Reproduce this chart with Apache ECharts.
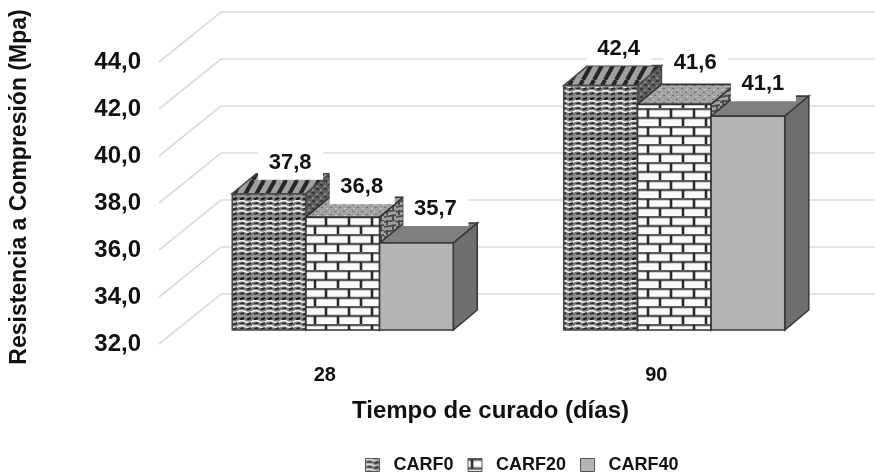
<!DOCTYPE html>
<html><head><meta charset="utf-8">
<style>html,body{margin:0;padding:0;background:#fff}#chart{width:875px;height:473px;filter:blur(0.7px)}</style>
<script src="https://cdn.jsdelivr.net/npm/echarts@6/dist/echarts.min.js"></script>
</head><body><div id="chart"></div>
<script>
const categories = ['28', '90'];
const seriesNames = ['CARF0', 'CARF20', 'CARF40'];
const carf0 = [37.8, 42.4];
const carf20 = [36.8, 41.6];
const carf40 = [35.7, 41.1];
const yTicks = [32, 34, 36, 38, 40, 42, 44];

const FONT = '"Liberation Sans Narrow", "Liberation Sans", Arial, sans-serif';
const comma = v => v.toFixed(1).replace('.', ',');
// small hand placement of the value labels, [series][category] -> [dx, dy]
const labelNudge = [[[2, 2], [-1, -4]], [[0, 3], [2, -8]], [[0, -1], [-4, 1]]];

function tile(w, h, draw) {
  const c = document.createElement('canvas');
  c.width = w; c.height = h;
  draw(c.getContext('2d'), w, h);
  return { image: c, repeat: 'repeat' };
}
function line(g, col, lw, x0, y0, x1, y1) {
  g.strokeStyle = col; g.lineWidth = lw;
  g.beginPath(); g.moveTo(x0, y0); g.lineTo(x1, y1); g.stroke();
}
const weave = tile(14, 20, (g, w, h) => {
  g.fillStyle = '#7d7d7d'; g.fillRect(0, 0, w, h);
  // light wavy threads and short dark slanted stitches, in rows
  [0, 5, 10, 15].forEach((y, r) => {
    g.strokeStyle = r === 3 ? '#999' : '#ececec'; g.lineWidth = 1.8;
    g.beginPath(); g.moveTo(0, y + 1.5);
    g.quadraticCurveTo(3.5, y - 0.5, 7, y + 1.5);
    g.quadraticCurveTo(10.5, y + 3.5, 14, y + 1.5);
    g.stroke();
    const col = r === 3 ? '#151515' : '#2a2a2a';
    line(g, col, 2, 2, y + 4.5, 6, y + 3);
    line(g, col, 2, 9, y + 4.5, 13, y + 3);
  });
});
const weaveTop = tile(11, 20, (g, w, h) => {
  g.fillStyle = '#a0a0a0'; g.fillRect(0, 0, w, h);
  g.strokeStyle = '#262626'; g.lineWidth = 4;
  for (let i = -1; i <= 1; i++) {
    g.beginPath(); g.moveTo(i * w, h); g.lineTo(i * w + w, 0); g.stroke();
  }
});
const weaveSide = tile(8, 8, (g, w, h) => {
  g.fillStyle = '#5f5f5f'; g.fillRect(0, 0, w, h);
  g.fillStyle = '#3a3a3a'; g.fillRect(0, 0, 3, 2); g.fillRect(4, 4, 3, 2);
  g.fillStyle = '#888'; g.fillRect(4, 1, 2, 2); g.fillRect(0, 5, 2, 2);
});
const brick = tile(46, 18, (g, w, h) => {
  g.fillStyle = '#fafafa'; g.fillRect(0, 0, w, h);
  line(g, '#5a5a5a', 2.6, 0, 1, w, 1);
  line(g, '#5a5a5a', 2.6, 0, 10, w, 10);
  [4, 27].forEach(x => line(g, '#2a2a2a', 2.6, x, 1, x, 10));
  [16, 39].forEach(x => line(g, '#2a2a2a', 2.6, x, 10, x, 18));
});
const brickTop = tile(9, 7, (g, w, h) => {
  g.fillStyle = '#a2a2a2'; g.fillRect(0, 0, w, h);
  g.fillStyle = '#6a6a6a'; g.fillRect(1, 1, 2, 1); g.fillRect(6, 4, 2, 1);
  g.fillStyle = '#cfcfcf'; g.fillRect(5, 1, 1, 1); g.fillRect(2, 5, 2, 1);
});
const brickSide = tile(12, 10, (g, w, h) => {
  g.fillStyle = '#a0a0a0'; g.fillRect(0, 0, w, h);
  line(g, '#505050', 1.8, 0, 2, w, 0);
  line(g, '#505050', 1.8, 0, 7, w, 5);
  line(g, '#444', 1.8, 3, 0, 3, 5);
  line(g, '#444', 1.8, 9, 5, 9, 10);
});
const faces = [
  { front: weave, top: weaveTop, side: weaveSide, stroke: '#4a4a4a', legend: weave },
  { front: brick, top: brickTop, side: brickSide, stroke: '#333333', legend: brick },
  { front: '#b4b4b4', top: '#7f7f7f', side: '#6f6f6f', stroke: '#3a3a3a', legend: '#b4b4b4' }
];
const seriesValues = [carf0, carf20, carf40];

const FLOOR_X = 18, FLOOR_Y = -14;   // bars stand this far into the floor
const BAR_DX = 24, BAR_DY = -20;     // bar depth
const WALL_DX = 62, WALL_DY = -50;   // floor depth

function barSeries(name, s) {
  return {
    type: 'custom', name, z: 3,
    itemStyle: { color: faces[s].legend },
    data: seriesValues[s].map((v, i) => [i, v]),
    renderItem(p, api) {
      const c = api.coord([api.value(0), api.value(1)]);
      const b = api.coord([api.value(0), 32]);
      const w = api.size([1, 0])[0] / 4.5;
      const x0 = c[0] + (s - 1.5) * w + FLOOR_X, x1 = x0 + w;
      const yT = c[1] + FLOOR_Y, yB = b[1] + FLOOR_Y;
      const f = faces[s];
      const poly = (pts, fill) => ({ type: 'polygon', shape: { points: pts },
        style: { fill, stroke: f.stroke, lineWidth: 1.6 } });
      return { type: 'group', children: [
        poly([[x0, yT], [x0 + BAR_DX, yT + BAR_DY], [x1 + BAR_DX, yT + BAR_DY], [x1, yT]], f.top),
        poly([[x1, yT], [x1 + BAR_DX, yT + BAR_DY], [x1 + BAR_DX, yB + BAR_DY], [x1, yB]], f.side),
        poly([[x0, yT], [x1, yT], [x1, yB], [x0, yB]], f.front)
      ] };
    }
  };
}
function labelSeries(s) {
  return {
    type: 'custom', silent: true, z: 5, legendHoverLink: false,
    data: seriesValues[s].map((v, i) => [i, v]),
    renderItem(p, api) {
      const c = api.coord([api.value(0), api.value(1)]);
      const w = api.size([1, 0])[0] / 4.5;
      const n = labelNudge[s][api.value(0)];
      const cx = c[0] + (s - 1) * w + FLOOR_X + 19 + n[0];
      const cy = c[1] + FLOOR_Y - 33 + n[1];
      return { type: 'group', children: [
        { type: 'rect', shape: { x: cx - 32, y: cy - 17, width: 65, height: 34 }, style: { fill: '#fff' } },
        { type: 'text', style: { x: cx, y: cy, text: comma(api.value(1)), fill: '#111',
          font: 'bold 22px ' + FONT, textAlign: 'center', textVerticalAlign: 'middle' } }
      ] };
    }
  };
}
const wallSeries = {
  type: 'custom', silent: true, z: 1,
  data: yTicks.map(v => [0, v]),
  renderItem(p, api) {
    const c = api.coord([0, api.value(1)]);
    const band = api.size([1, 0])[0];
    const x = c[0] - band / 2;
    return { type: 'polyline',
      shape: { points: [[x, c[1]], [x + WALL_DX, c[1] + WALL_DY], [x + WALL_DX + 2 * band, c[1] + WALL_DY]] },
      style: { fill: 'none', stroke: '#dcdcdc', lineWidth: 1.7 } };
  }
};

const chart = echarts.init(document.getElementById('chart'), null, { renderer: 'canvas' });
chart.setOption({
  animation: false,
  backgroundColor: '#fff',
  grid: { left: 158, top: 62, width: 664, height: 282, containLabel: false },
  xAxis: {
    type: 'category', data: categories,
    axisLine: { show: false }, axisTick: { show: false }, splitLine: { show: false },
    axisLabel: { margin: 21, color: '#111', fontFamily: FONT, fontWeight: 'bold', fontSize: 20 },
    name: 'Tiempo de curado (días)', nameLocation: 'middle', nameGap: 55,
    nameTextStyle: { color: '#111', fontFamily: FONT, fontWeight: 'bold', fontSize: 24 }
  },
  yAxis: {
    type: 'value', min: 32, max: 44, interval: 2,
    axisLine: { show: false }, axisTick: { show: false }, splitLine: { show: false },
    axisLabel: { margin: 18, color: '#111', fontFamily: FONT, fontWeight: 'bold', fontSize: 24, padding: [4, 0, 0, 0], formatter: comma },
    name: 'Resistencia a Compresión (Mpa)', nameLocation: 'middle', nameGap: 128,
    nameTextStyle: { color: '#111', fontFamily: FONT, fontWeight: 'bold', fontSize: 23, padding: [0, 0, 0, 32] }
  },
  legend: {
    left: 360, top: 451, selectedMode: false, itemWidth: 14, itemHeight: 13, itemGap: 14,
    textStyle: { color: '#111', fontFamily: FONT, fontWeight: 'bold', fontSize: 18, padding: [0, 0, 0, 9] },
    data: seriesNames.map((n, s) => ({ name: n, icon: 'rect',
      itemStyle: { color: faces[s].legend, borderColor: '#555', borderWidth: 1 } }))
  },
  series: [wallSeries,
    ...seriesNames.map((n, s) => barSeries(n, s)),
    ...seriesNames.map((n, s) => labelSeries(s))]
});
</script></body></html>
